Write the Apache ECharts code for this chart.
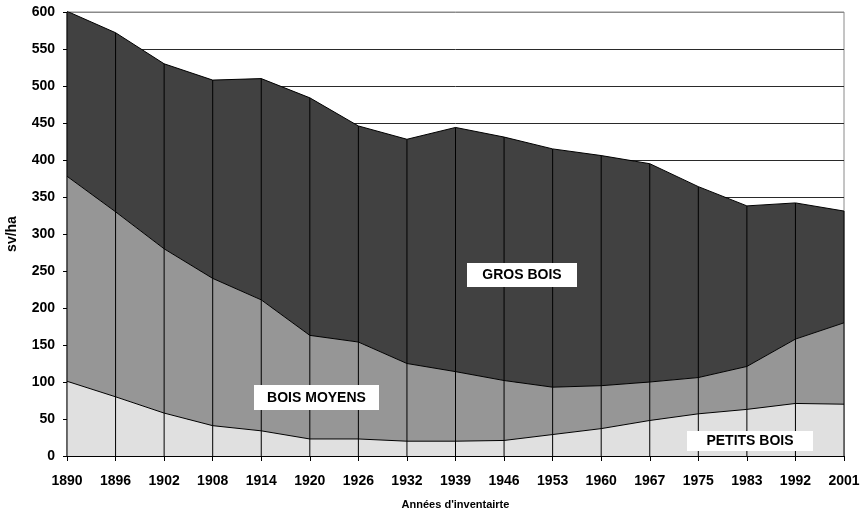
<!DOCTYPE html>
<html>
<head>
<meta charset="utf-8">
<script src="https://cdn.jsdelivr.net/npm/echarts@6/dist/echarts.min.js"></script>
<style>html,body{margin:0;padding:0;background:#fff;}#c{width:868px;height:515px;}</style>
</head>
<body>
<div id="c"></div>
<script>
var years = ['1890','1896','1902','1908','1914','1920','1926','1932','1939','1946','1953','1960','1967','1975','1983','1992','2001'];
var petitsBois = [101, 80, 58, 41, 34, 23, 23, 20, 20, 21, 29, 37, 48, 57, 63, 71, 70];
var boisMoyens = [277, 250, 222, 199, 177, 140, 131, 105, 94, 81, 64, 58, 52, 49, 58, 87, 110];
var grosBois = [223, 242, 250, 268, 299, 321, 292, 303, 330, 329, 322, 311, 295, 258, 217, 184, 151];
var yTicks = [0, 50, 100, 150, 200, 250, 300, 350, 400, 450, 500, 550, 600];

var totals = years.map(function (_, i) { return petitsBois[i] + boisMoyens[i] + grosBois[i]; });
var F = '"Liberation Sans", Arial, sans-serif';
var gridColors = yTicks.map(function (v, i) { return i === yTicks.length - 1 ? '#8a8a8a' : '#2a2a2a'; });

var chart = echarts.init(document.getElementById('c'), null, {renderer: 'canvas'});
function area(name, data, color) {
  return {
    name: name, type: 'line', stack: 'total', data: data,
    symbol: 'none', smooth: false,
    lineStyle: {color: '#000', width: 1},
    areaStyle: {color: color, opacity: 1},
    z: 2, animation: false
  };
}
function labelBox(text, x, y, w, h) {
  return [
    {type: 'rect', z: 100, shape: {x: x, y: y, width: w, height: h}, style: {fill: '#fff'}},
    {type: 'text', z: 101, x: x + w / 2, y: y + h / 2 + 0.5,
      style: {text: text, fill: '#000', fontFamily: F, fontWeight: 'bold', fontSize: 14, align: 'center', verticalAlign: 'middle'}}
  ];
}
chart.setOption({
  animation: false,
  grid: {left: 67, right: 24, top: 12, bottom: 59, outerBoundsMode: 'none', containLabel: false,
    show: true, borderColor: '#8a8a8a', borderWidth: 1, backgroundColor: 'transparent'},
  xAxis: {
    type: 'category', data: years, boundaryGap: false,
    name: "Années d'inventairte", nameLocation: 'middle', nameGap: 43,
    nameTextStyle: {fontFamily: F, fontWeight: 'bold', fontSize: 11, color: '#000'},
    axisLine: {lineStyle: {color: '#000', width: 1}},
    axisTick: {show: true, alignWithLabel: true, length: 5, lineStyle: {color: '#000'}},
    axisLabel: {fontFamily: F, fontWeight: 'bold', fontSize: 14, color: '#000', margin: 18, interval: 0},
    splitLine: {show: false}
  },
  yAxis: {
    type: 'value', min: 0, max: 600, interval: 50,
    name: 'sv/ha', nameLocation: 'middle', nameGap: 48, nameRotate: 90,
    nameTextStyle: {fontFamily: F, fontWeight: 'bold', fontSize: 14, color: '#000'},
    axisLine: {show: true, lineStyle: {color: '#000', width: 1}},
    axisTick: {show: true, length: 4, lineStyle: {color: '#000'}},
    axisLabel: {fontFamily: F, fontWeight: 'bold', fontSize: 14, color: '#000', margin: 12},
    splitLine: {show: true, lineStyle: {color: gridColors, width: 1}}
  },
  series: [
    area('PETITS BOIS', petitsBois, '#e0e0e0'),
    area('BOIS MOYENS', boisMoyens, '#969696'),
    area('GROS BOIS', grosBois, '#414141'),
    {
      name: 'dividers', type: 'bar', data: totals, barWidth: 1,
      itemStyle: {color: '#000'}, z: 3, animation: false, silent: true
    }
  ],
  graphic: {elements: [].concat(
    labelBox('BOIS MOYENS', 254, 385, 125, 25),
    labelBox('GROS BOIS', 467, 263, 110, 24),
    labelBox('PETITS BOIS', 687, 431, 126, 20)
  )}
});
</script>
</body>
</html>
